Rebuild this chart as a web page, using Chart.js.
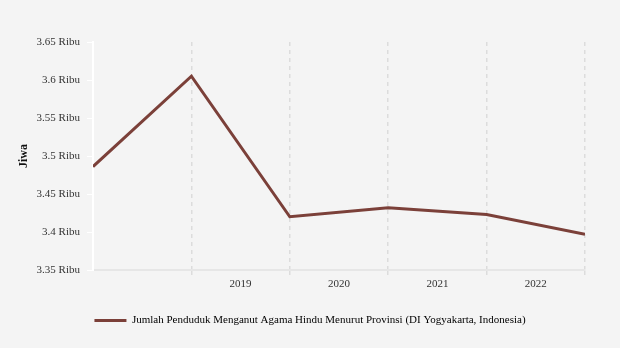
<!DOCTYPE html>
<html>
<head>
<meta charset="utf-8">
<script src="https://cdn.jsdelivr.net/npm/chart.js@4/dist/chart.umd.min.js"></script>
<style>
  html, body { margin: 0; padding: 0; background: #f4f4f4; }
  canvas { display: block; }
</style>
</head>
<body>
<canvas id="line-chart" width="620" height="348"></canvas>
<script>
// jumlah penduduk beragama Hindu, DI Yogyakarta (jiwa)
var points = [0, 1, 2, 3, 4, 5];
var jiwa = [3486, 3605, 3420, 3432, 3423, 3397];
var yearPos = [1.5, 2.5, 3.5, 4.5];
var years = ['2019', '2020', '2021', '2022'];

var serif = "'Liberation Serif', 'Times New Roman', serif";
var lineColor = '#7b4039';

var ctx = document.getElementById('line-chart');

// center the legend on the whole canvas, not only the plot width
var legendShift = {
    id: 'legendShift',
    afterLayout: function (chart) {
        var lg = chart.legend;
        if (!lg) return;
        var dx = (chart.width - (lg.left + lg.right)) / 2;
        lg.left += dx;
        lg.right += dx;
    }
};

var LineChart = new Chart(ctx, {
    type: 'line',
    data: {
        datasets: [{
            label: 'Jumlah Penduduk Menganut Agama Hindu Menurut Provinsi (DI Yogyakarta, Indonesia)',
            data: points.map(function (x, i) { return { x: x, y: jiwa[i] }; }),
            borderColor: lineColor,
            backgroundColor: lineColor,
            borderWidth: 3,
            pointRadius: 0,
            tension: 0
        }]
    },
    plugins: [legendShift],
    options: {
        responsive: false,
        animation: false,
        layout: { padding: { left: 13, right: 35, top: 42, bottom: 12 } },
        plugins: {
            tooltip: { enabled: false },
            legend: {
                position: 'bottom',
                labels: {
                    font: { family: serif, size: 11 },
                    color: '#222',
                    boxWidth: 32,
                    boxHeight: 3,
                    padding: 14,
                    generateLabels: function (chart) {
                        return chart.data.datasets.map(function (ds, i) {
                            return {
                                text: ds.label,
                                fillStyle: lineColor,
                                strokeStyle: lineColor,
                                lineWidth: 0,
                                datasetIndex: i
                            };
                        });
                    }
                }
            }
        },
        scales: {
            x: {
                type: 'linear',
                min: 0,
                max: 5,
                afterBuildTicks: function (scale) {
                    var t = [];
                    for (var v = 0; v <= 5; v += 0.5) t.push({ value: v });
                    scale.ticks = t;
                },
                afterFit: function (scale) { scale.height = 31; },
                ticks: {
                    autoSkip: false,
                    maxRotation: 0,
                    font: { family: serif, size: 11 },
                    color: '#333',
                    padding: 1,
                    callback: function (v) {
                        var i = yearPos.indexOf(v);
                        return i >= 0 ? years[i] : '';
                    }
                },
                grid: {
                    color: function (c) {
                        var v = c.tick && c.tick.value;
                        return (Number.isInteger(v) && v > 0) ? '#dcdcdc' : 'rgba(0,0,0,0)';
                    },
                    lineWidth: 1.5,
                    tickLength: 7,
                    tickBorderDash: [4, 4]
                },
                border: { color: '#e6e6e6', width: 2, dash: [4, 4] }
            },
            y: {
                min: 3350,
                max: 3650,
                afterFit: function (scale) { scale.width = 80; },
                ticks: {
                    stepSize: 50,
                    font: { family: serif, size: 11 },
                    color: '#333',
                    padding: 7,
                    callback: function (v) { return (v / 1000) + ' Ribu'; }
                },
                title: {
                    display: true,
                    text: 'Jiwa',
                    font: { family: serif, size: 12, weight: 'bold' },
                    color: '#111'
                },
                grid: {
                    drawOnChartArea: false,
                    color: '#ffffff',
                    tickLength: 6
                },
                border: { color: '#ffffff', width: 2 }
            }
        }
    }
});
</script>
</body>
</html>
